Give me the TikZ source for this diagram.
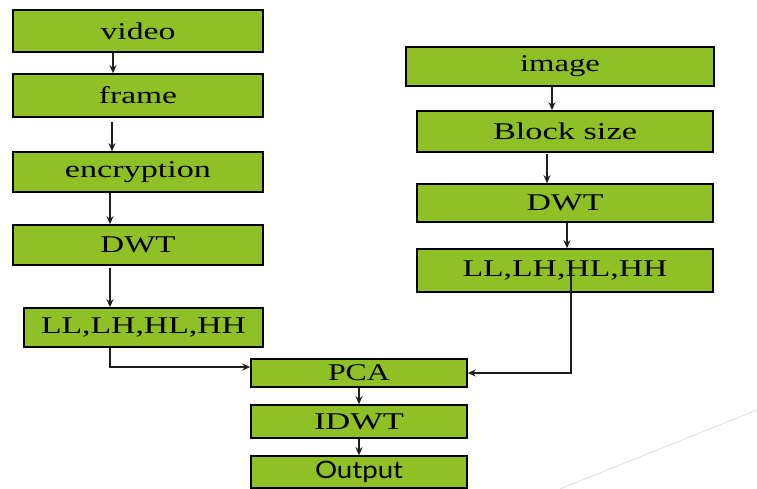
\documentclass[tikz,border=0pt]{standalone}
\usepackage{fontspec}
\setmainfont{Liberation Serif}
\newfontfamily\outfont{Lato}
\usetikzlibrary{arrows.meta}
\definecolor{boxgreen}{RGB}{143,192,38}
\definecolor{linegray}{RGB}{30,30,30}
\definecolor{faint}{RGB}{222,222,222}
% stretch a label horizontally to a given width (in pt), keeping its height
\newcommand\wide[2]{\resizebox{#1pt}{\height}{#2}}
\begin{document}
\begin{tikzpicture}[x=1pt,y=-1pt,
  box/.style={draw=black, line width=1.6pt, fill=boxgreen, rectangle,
    inner sep=0pt, font=\fontsize{24}{27}\selectfont},
  arr/.style={draw=linegray, line width=1.2pt, -{Stealth[length=8pt,width=7pt]}}]
\useasboundingbox (0,0) rectangle (757,489);

% video branch
\node[box, minimum width=250pt, minimum height=42pt] (video) at (138,31) {\wide{75}{video}};
\node[box, minimum width=250pt, minimum height=43pt] (frame) at (138,95.5) {\wide{78}{frame}};
\node[box, minimum width=250pt, minimum height=40pt] (encr) at (138,172) {\wide{146}{encryption}};
\node[box, minimum width=250pt, minimum height=40pt] (dwtl) at (138,245) {\wide{75}{DWT}};
\node[box, minimum width=239pt, minimum height=39pt] (lll) at (143.5,327.5) {\wide{205}{LL,LH,HL,HH}};

% image branch
\node[box, minimum width=308pt, minimum height=39pt] (image) at (560,66.5) {\wide{80}{image}};
\node[box, minimum width=296pt, minimum height=41pt] (block) at (565,131.5) {\wide{144}{Block size}};
\node[box, minimum width=296pt, minimum height=38pt] (dwtr) at (565,203) {\wide{77}{DWT}};
\node[box, minimum width=296pt, minimum height=43pt] (llr) at (565,270.5) {\wide{205}{LL,LH,HL,HH}};

% common tail
\node[box, minimum width=216pt, minimum height=28pt] (pca) at (359,373) {\wide{62}{PCA}};
\node[box, minimum width=216pt, minimum height=33pt] (idwt) at (359,421.5) {\wide{90}{IDWT}};
\node[box, minimum width=216pt, minimum height=32pt] (out) at (359,472) {\wide{88}{\outfont Output}};

% connectors, left column
\draw[arr] ([xshift=-25pt]video.south) -- ([xshift=-25pt]frame.north);
\draw[arr] ([xshift=-26pt,yshift=-4pt]frame.south) -- ([xshift=-26pt]encr.north);
\draw[arr] ([xshift=-28pt]encr.south) -- ([xshift=-28pt]dwtl.north);
\draw[arr] ([xshift=-28pt,yshift=-2pt]dwtl.south) -- ([xshift=-33.5pt]lll.north);
\draw[arr] ([xshift=-33.5pt]lll.south) |- ([yshift=6pt]pca.west);

% connectors, right column
\draw[arr] ([xshift=-8pt]image.south) -- ([xshift=-13pt]block.north);
\draw[arr] ([xshift=-18pt,yshift=-1pt]block.south) -- ([xshift=-18pt]dwtr.north);
\draw[arr] ([xshift=2pt]dwtr.south) -- ([xshift=2pt]llr.north);
\draw[arr] ([xshift=6pt]llr.center) |- (pca.east);

% tail
\draw[arr] (pca.south) -- (idwt.north);
\draw[arr] (idwt.south) -- (out.north);

% faint corner stroke
\draw[faint, line width=0.8pt] (560,489) -- (757,410);
\end{tikzpicture}
\end{document}
